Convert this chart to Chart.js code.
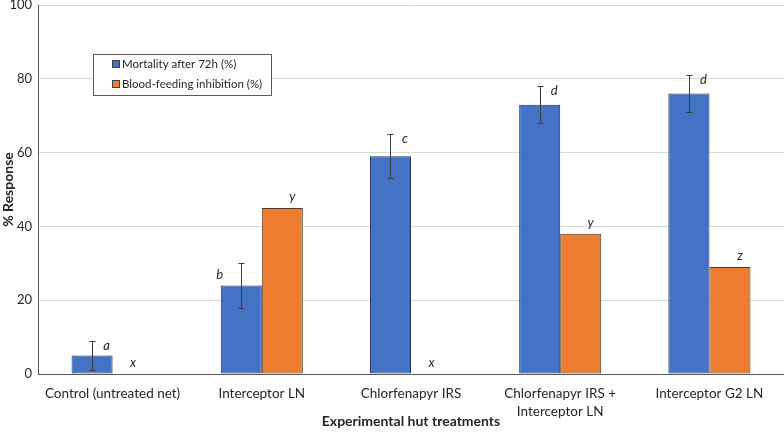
<!DOCTYPE html>
<html>
<head>
<meta charset="utf-8">
<script src="https://cdn.jsdelivr.net/npm/chart.js@4/dist/chart.umd.min.js"></script>
<style>
  html, body { margin: 0; padding: 0; background: #fff; }
  #wrap { width: 784px; height: 435px; position: relative; }
</style>
</head>
<body>
<div id="wrap"><canvas id="chart"></canvas></div>
<script>
'use strict';

// ── Data ──────────────────────────────────────────────────────────────────────
const categories = [
  'Control (untreated net)',
  'Interceptor LN',
  'Chlorfenapyr IRS',
  ['Chlorfenapyr IRS +', 'Interceptor LN'],
  'Interceptor G2 LN',
];
const mortality = [5, 24, 59, 73, 76];
const mortalityLow = [1, 18, 53, 68, 71];
const mortalityHigh = [9, 30, 65, 78, 81];
const feedingInhibition = [0, 45, 0, 38, 29];
const mortalityLetters = ['a', 'b', 'c', 'd', 'd'];
const feedingLetters = ['x', 'y', 'x', 'y', 'z'];
const yTicks = [0, 20, 40, 60, 80, 100];
const seriesNames = ['Mortality after 72h (%)', 'Blood-feeding inhibition (%)'];

// ── Styles ────────────────────────────────────────────────────────────────────
const FONT = 'Lato, "Open Sans", sans-serif';
const BLUE = '#4472c4';
const ORANGE = '#ed7d31';
const AXIS = '#595959';
const GRID = '#d9d9d9';
const TEXT = '#262626';

// error bars drawn on top of the mortality bars
const errorBars = {
  id: 'errorBars',
  afterDatasetsDraw(chart) {
    const { ctx, scales: { y } } = chart;
    const meta = chart.getDatasetMeta(0);
    ctx.save();
    ctx.strokeStyle = '#3b3b3b';
    ctx.lineWidth = 1;
    meta.data.forEach((bar, i) => {
      const x = Math.round(bar.x) + 0.5;
      const yHi = Math.round(y.getPixelForValue(mortalityHigh[i])) + 0.5;
      const yLo = Math.round(y.getPixelForValue(mortalityLow[i])) + 0.5;
      ctx.beginPath();
      ctx.moveTo(x, yHi); ctx.lineTo(x, yLo);
      ctx.moveTo(x - 3, yHi); ctx.lineTo(x + 3, yHi);
      ctx.moveTo(x - 3, yLo); ctx.lineTo(x + 3, yLo);
      ctx.stroke();
    });
    ctx.restore();
  },
};

// significance letters
const letters = {
  id: 'letters',
  afterDatasetsDraw(chart) {
    const { ctx, scales: { y } } = chart;
    const m0 = chart.getDatasetMeta(0);
    const m1 = chart.getDatasetMeta(1);
    ctx.save();
    ctx.font = 'italic 13px ' + FONT;
    ctx.fillStyle = TEXT;
    ctx.textAlign = 'center';
    ctx.textBaseline = 'middle';
    m0.data.forEach((bar, i) => {
      const half = bar.width / 2;
      const errTop = y.getPixelForValue(mortalityHigh[i]);
      if (i === 1) {
        ctx.fillText(mortalityLetters[i], bar.x - half - 1, errTop + 12);
      } else {
        ctx.fillText(mortalityLetters[i], bar.x + half - 6, errTop + 5);
      }
    });
    m1.data.forEach((bar, i) => {
      const v = feedingInhibition[i];
      const dx = v > 0 ? 10 : 0;
      ctx.fillText(feedingLetters[i], bar.x + dx, y.getPixelForValue(v) - 11);
    });
    ctx.restore();
  },
};

// boxed legend floating inside the plot
const boxLegend = {
  id: 'boxLegend',
  afterDraw(chart) {
    const { ctx, chartArea } = chart;
    const left = chartArea.left + 55;
    const top = chartArea.top + 49;
    const w = 178, h = 41;
    ctx.save();
    ctx.strokeStyle = AXIS;
    ctx.lineWidth = 1;
    ctx.fillStyle = '#fff';
    ctx.fillRect(left, top, w, h);
    ctx.strokeRect(left + 0.5, top + 0.5, w, h);
    ctx.font = '11.5px ' + FONT;
    ctx.textBaseline = 'middle';
    [BLUE, ORANGE].forEach((c, i) => {
      const cy = top + 10 + i * 20;
      ctx.fillStyle = c;
      ctx.fillRect(left + 20, cy - 3, 6, 6);
      ctx.strokeStyle = '#404040';
      ctx.strokeRect(left + 19.5, cy - 3.5, 7, 7);
      ctx.fillStyle = TEXT;
      ctx.fillText(seriesNames[i], left + 29, cy + 0.5);
    });
    ctx.restore();
  },
};

new Chart(document.getElementById('chart'), {
  type: 'bar',
  data: {
    labels: categories,
    datasets: [
      {
        label: seriesNames[0],
        data: mortality,
        backgroundColor: BLUE,
        borderColor: '#1f3560',
        borderWidth: 1,
        borderSkipped: false,
      },
      {
        label: seriesNames[1],
        data: feedingInhibition,
        backgroundColor: ORANGE,
        borderColor: '#4a3a2e',
        borderWidth: 1,
        borderSkipped: false,
      },
    ],
  },
  options: {
    responsive: true,
    maintainAspectRatio: false,
    animation: false,
    datasets: { bar: { barPercentage: 1, categoryPercentage: 0.55 } },
    layout: { padding: { top: 5, right: 0, left: 0, bottom: 0 } },
    plugins: {
      legend: { display: false },
      tooltip: { enabled: false },
    },
    scales: {
      x: {
        grid: { display: false },
        border: { color: AXIS, width: 1 },
        ticks: { color: TEXT, font: { family: FONT, size: 13.5, lineHeight: 1.3 }, padding: 3, maxRotation: 0 },
        title: {
          display: true,
          text: 'Experimental hut treatments',
          color: TEXT,
          font: { family: FONT, size: 14, weight: 'bold' },
          padding: { top: 0, bottom: 5 },
        },
        afterFit(scale) { scale.height = 61; },
      },
      y: {
        min: 0,
        max: 100,
        afterBuildTicks(scale) { scale.ticks = yTicks.map(v => ({ value: v })); },
        grid: { color: GRID, drawTicks: false },
        border: { color: AXIS, width: 1 },
        ticks: { color: TEXT, font: { family: FONT, size: 13 }, padding: 6 },
        title: {
          display: true,
          text: '% Response',
          color: TEXT,
          font: { family: FONT, size: 14, weight: 'bold' },
          padding: { top: 0, bottom: 0 },
        },
        afterFit(scale) {
          scale.width = 38;
          scale.paddingTop = 0;
          scale.paddingBottom = 0;
        },
      },
    },
  },
  plugins: [errorBars, letters, boxLegend],
});
</script>
</body>
</html>
